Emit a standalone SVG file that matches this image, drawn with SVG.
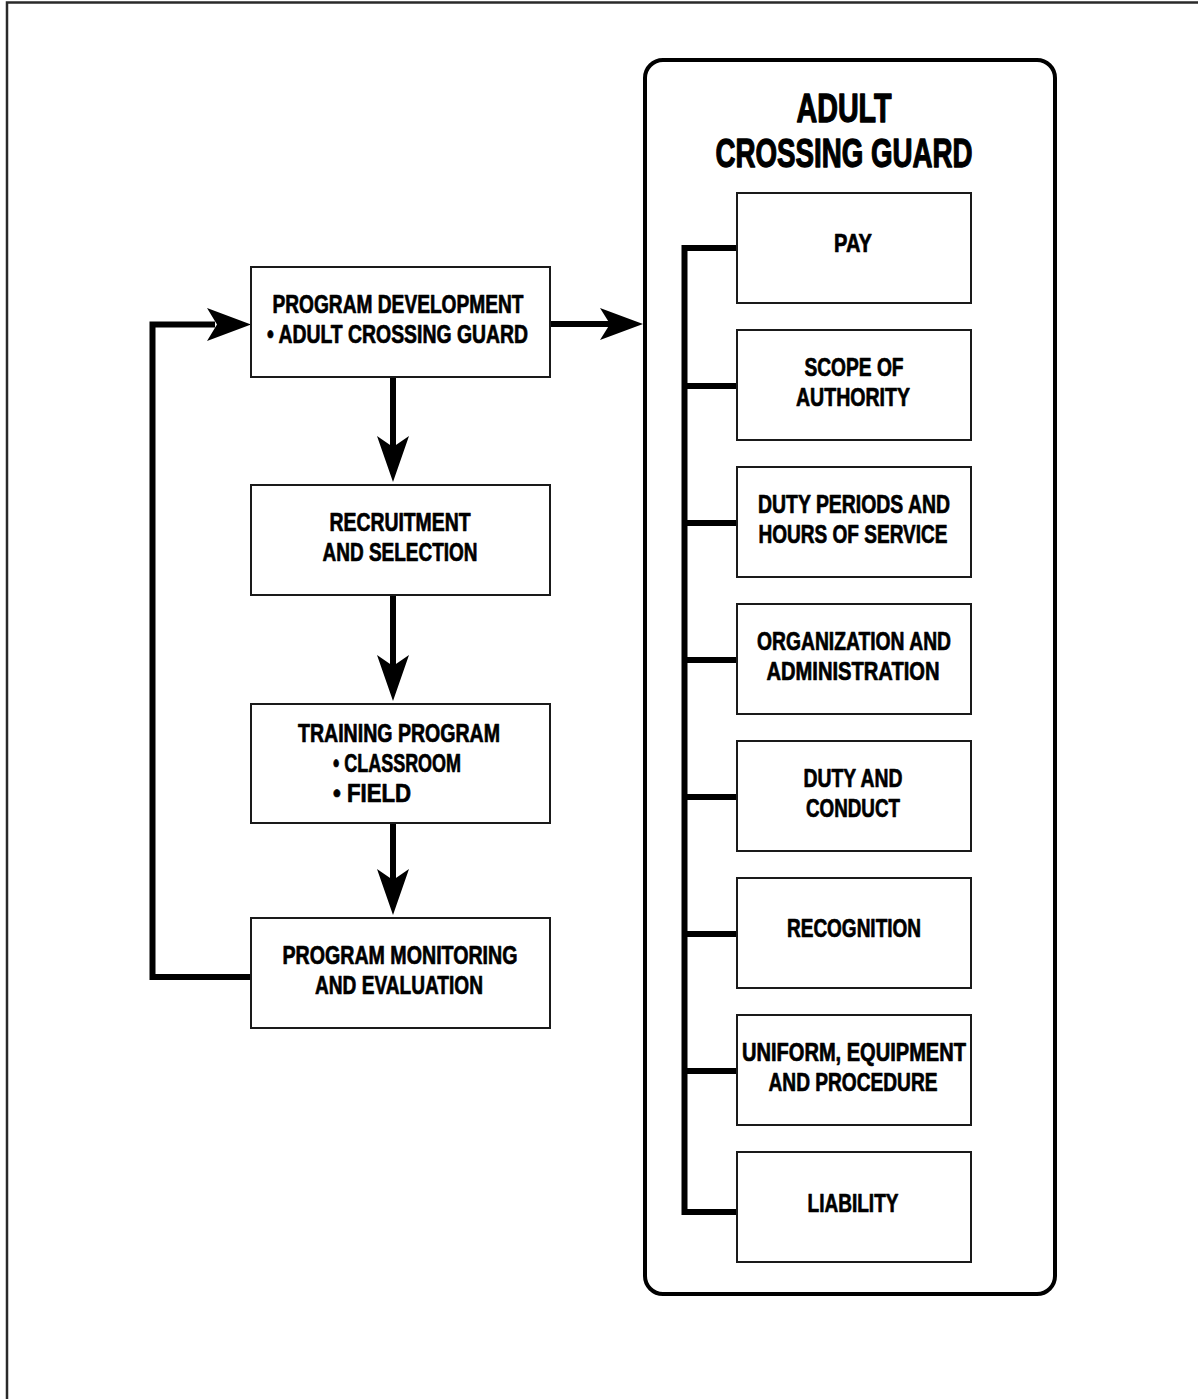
<svg xmlns="http://www.w3.org/2000/svg" width="1198" height="1399" viewBox="0 0 1198 1399">
<style>
.frame{fill:none;stroke:#2a2a2a;stroke-width:2.5}
.box{fill:#fff;stroke:#1a1a1a;stroke-width:2}
.big{fill:#fff;stroke:#000;stroke-width:4}
.ln{fill:none;stroke:#000;stroke-width:6;stroke-linecap:butt;stroke-linejoin:miter}
.head{fill:#000}
text{font-family:"Liberation Sans",Arial,sans-serif;font-weight:bold;fill:#000;stroke:#000;stroke-width:0.7;stroke-linejoin:round}
.t{font-size:25px;text-anchor:middle}
.ts{font-size:25px;text-anchor:start}
.title{font-size:40px;text-anchor:middle;stroke-width:1.3}
</style>
<rect width="1198" height="1399" fill="#fff"/>
<rect class="frame" x="7" y="2.5" width="1200" height="1410"/>

<g id="connectors">
  <!-- feedback loop -->
  <polyline class="ln" points="251,977 152.5,977 152.5,324.5 215,324.5"/>
  <polygon class="head" points="251,324.5 207,308 217,324.5 207,341"/>
  <!-- program dev to adult crossing guard -->
  <line class="ln" x1="550" y1="324" x2="610" y2="324"/>
  <polygon class="head" points="643,324 600,308 610,324 600,340"/>
  <!-- down arrows -->
  <line class="ln" x1="393" y1="377" x2="393" y2="450"/>
  <polygon class="head" points="393,482 377,436 393,447 409,436"/>
  <line class="ln" x1="393" y1="595" x2="393" y2="668"/>
  <polygon class="head" points="393,701 377,655 393,666 409,655"/>
  <line class="ln" x1="393" y1="823" x2="393" y2="882"/>
  <polygon class="head" points="393,915 377,869 393,880 409,869"/>
</g>

<g id="adult-crossing-guard">
  <rect class="big" x="645" y="60" width="410" height="1234" rx="18"/>
  <text class="title" x="844" y="122" textLength="95" lengthAdjust="spacingAndGlyphs">ADULT</text>
  <text class="title" x="844" y="167" textLength="257" lengthAdjust="spacingAndGlyphs">CROSSING GUARD</text>
  <g id="trunk">
    <polyline class="ln" points="737,248 684.5,248 684.5,1212 737,1212"/>
    <line class="ln" x1="684.5" y1="386" x2="737" y2="386"/>
    <line class="ln" x1="684.5" y1="523" x2="737" y2="523"/>
    <line class="ln" x1="684.5" y1="660" x2="737" y2="660"/>
    <line class="ln" x1="684.5" y1="797" x2="737" y2="797"/>
    <line class="ln" x1="684.5" y1="934" x2="737" y2="934"/>
    <line class="ln" x1="684.5" y1="1071" x2="737" y2="1071"/>
  </g>
</g>

<g id="program-development">
  <rect class="box" x="251" y="267" width="299" height="110"/>
  <text class="t" x="398" y="313" textLength="251" lengthAdjust="spacingAndGlyphs">PROGRAM DEVELOPMENT</text>
  <text class="ts" x="267" y="343" textLength="261" lengthAdjust="spacingAndGlyphs">• ADULT CROSSING GUARD</text>
</g>
<g id="recruitment">
  <rect class="box" x="251" y="485" width="299" height="110"/>
  <text class="t" x="400" y="531" textLength="141" lengthAdjust="spacingAndGlyphs">RECRUITMENT</text>
  <text class="t" x="400" y="561" textLength="155" lengthAdjust="spacingAndGlyphs">AND SELECTION</text>
</g>
<g id="training">
  <rect class="box" x="251" y="704" width="299" height="119"/>
  <text class="t" x="399" y="742" textLength="202" lengthAdjust="spacingAndGlyphs">TRAINING PROGRAM</text>
  <text class="ts" x="333" y="772" textLength="128" lengthAdjust="spacingAndGlyphs">• CLASSROOM</text>
  <text class="ts" x="333" y="802" textLength="78" lengthAdjust="spacingAndGlyphs">• FIELD</text>
</g>
<g id="monitoring">
  <rect class="box" x="251" y="918" width="299" height="110"/>
  <text class="t" x="400" y="964" textLength="235" lengthAdjust="spacingAndGlyphs">PROGRAM MONITORING</text>
  <text class="t" x="399" y="994" textLength="168" lengthAdjust="spacingAndGlyphs">AND EVALUATION</text>
</g>

<g id="pay">
  <rect class="box" x="737" y="193" width="234" height="110"/>
  <text class="t" x="853" y="252" textLength="38" lengthAdjust="spacingAndGlyphs">PAY</text>
</g>
<g id="scope">
  <rect class="box" x="737" y="330" width="234" height="110"/>
  <text class="t" x="854" y="376" textLength="99" lengthAdjust="spacingAndGlyphs">SCOPE OF</text>
  <text class="t" x="853" y="406" textLength="114" lengthAdjust="spacingAndGlyphs">AUTHORITY</text>
</g>
<g id="duty-periods">
  <rect class="box" x="737" y="467" width="234" height="110"/>
  <text class="t" x="854" y="513" textLength="192" lengthAdjust="spacingAndGlyphs">DUTY PERIODS AND</text>
  <text class="t" x="853" y="543" textLength="189" lengthAdjust="spacingAndGlyphs">HOURS OF SERVICE</text>
</g>
<g id="organization">
  <rect class="box" x="737" y="604" width="234" height="110"/>
  <text class="t" x="854" y="650" textLength="194" lengthAdjust="spacingAndGlyphs">ORGANIZATION AND</text>
  <text class="t" x="853" y="680" textLength="173" lengthAdjust="spacingAndGlyphs">ADMINISTRATION</text>
</g>
<g id="duty-conduct">
  <rect class="box" x="737" y="741" width="234" height="110"/>
  <text class="t" x="853" y="787" textLength="99" lengthAdjust="spacingAndGlyphs">DUTY AND</text>
  <text class="t" x="853" y="817" textLength="94" lengthAdjust="spacingAndGlyphs">CONDUCT</text>
</g>
<g id="recognition">
  <rect class="box" x="737" y="878" width="234" height="110"/>
  <text class="t" x="854" y="937" textLength="134" lengthAdjust="spacingAndGlyphs">RECOGNITION</text>
</g>
<g id="uniform">
  <rect class="box" x="737" y="1015" width="234" height="110"/>
  <text class="t" x="854" y="1061" textLength="224" lengthAdjust="spacingAndGlyphs">UNIFORM, EQUIPMENT</text>
  <text class="t" x="853" y="1091" textLength="169" lengthAdjust="spacingAndGlyphs">AND PROCEDURE</text>
</g>
<g id="liability">
  <rect class="box" x="737" y="1152" width="234" height="110"/>
  <text class="t" x="853" y="1212" textLength="91" lengthAdjust="spacingAndGlyphs">LIABILITY</text>
</g>
</svg>
